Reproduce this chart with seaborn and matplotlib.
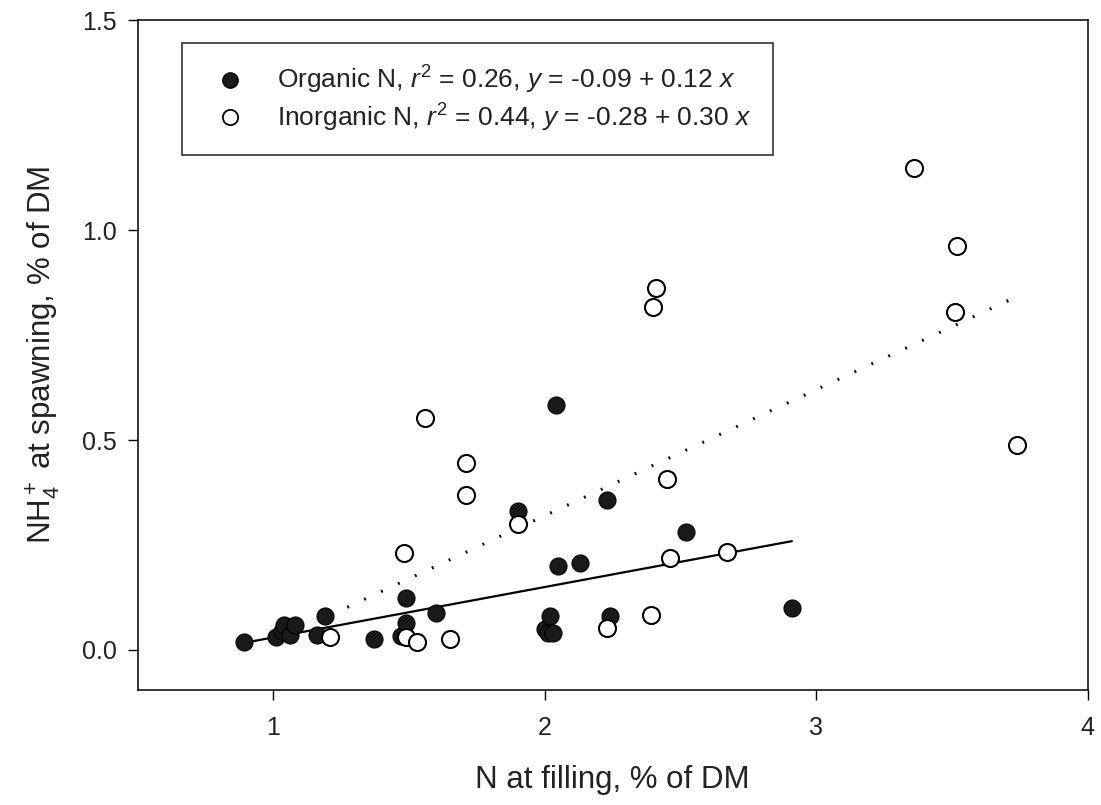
import matplotlib
matplotlib.use("Agg")
import matplotlib.pyplot as plt
import seaborn as sns
import pandas as pd
import numpy as np
from matplotlib.lines import Line2D

sns.set_theme(style="ticks")
plt.rcParams['font.family'] = ['Liberation Sans', 'DejaVu Sans']
plt.rcParams['mathtext.fontset'] = 'custom'
plt.rcParams['mathtext.rm'] = 'Liberation Sans'
plt.rcParams['mathtext.it'] = 'Liberation Sans:italic'

# Organic N (filled circles)
org_x = [0.89, 1.01, 1.03, 1.04, 1.06, 1.08, 1.16, 1.19, 1.37, 1.47, 1.49, 1.49,
         1.60, 1.90, 2.00, 2.01, 2.02, 2.03, 2.04, 2.05, 2.13, 2.23, 2.24, 2.52, 2.91]
org_y = [0.02, 0.03, 0.045, 0.06, 0.035, 0.06, 0.036, 0.08, 0.025, 0.033, 0.064, 0.125,
         0.088, 0.33, 0.05, 0.04, 0.08, 0.04, 0.583, 0.20, 0.207, 0.357, 0.08, 0.28, 0.10]

# Inorganic N (open circles)
inorg_x = [1.21, 1.48, 1.49, 1.53, 1.56, 1.65, 1.71, 1.71, 1.90, 2.23, 2.39, 2.40,
           2.41, 2.45, 2.46, 2.67, 3.36, 3.51, 3.52, 3.74]
inorg_y = [0.03, 0.231, 0.03, 0.02, 0.552, 0.027, 0.445, 0.37, 0.30, 0.053, 0.084, 0.817,
           0.862, 0.407, 0.22, 0.234, 1.148, 0.805, 0.962, 0.488]

# regression coefficients from the legend
org_fit = (-0.09, 0.12)
inorg_fit = (-0.28, 0.30)

org_label = r"Organic N, $r^2$ = 0.26, $y$ = -0.09 + 0.12 $x$"
inorg_label = r"Inorganic N, $r^2$ = 0.44, $y$ = -0.28 + 0.30 $x$"

x_ticks = [1, 2, 3, 4]
y_ticks = [0.0, 0.5, 1.0, 1.5]
y_tick_labels = ["0.0", "0.5", "1.0", "1.5"]

df_org = pd.DataFrame({"x": org_x, "y": org_y})
df_inorg = pd.DataFrame({"x": inorg_x, "y": inorg_y})

ox = np.array([min(org_x), max(org_x)])
ix = np.array([min(inorg_x), max(inorg_x)])
df_org_line = pd.DataFrame({"x": ox, "y": org_fit[0] + org_fit[1] * ox})
df_inorg_line = pd.DataFrame({"x": ix, "y": inorg_fit[0] + inorg_fit[1] * ix})

fig = plt.figure(figsize=(11.01, 8.05), dpi=100)
ax = fig.add_axes([0.125, 0.143, 0.863, 0.832])

sns.lineplot(data=df_org_line, x="x", y="y", ax=ax, color="black", lw=1.6, zorder=2)
sns.lineplot(data=df_inorg_line, x="x", y="y", ax=ax, color="black", lw=2.2,
             linestyle=(0, (0.6, 5.5)), zorder=2)

sns.scatterplot(data=df_org, x="x", y="y", ax=ax, s=150, color="#1a1a1a",
                edgecolor="black", linewidth=0.8, zorder=3)
sns.scatterplot(data=df_inorg, x="x", y="y", ax=ax, s=150, facecolor="white",
                edgecolor="black", linewidth=1.5, zorder=4)

ax.set_xlim(0.5, 4.0)
ax.set_ylim(-0.095, 1.5)
ax.set_xticks(x_ticks)
ax.set_yticks(y_ticks)
ax.set_yticklabels(y_tick_labels)
ax.tick_params(axis="both", labelsize=18, direction="out", length=7, width=1,
               color="black", labelcolor="#222222")
ax.tick_params(axis="y", pad=8)
ax.tick_params(axis="x", pad=12)
ax.set_xlabel("N at filling, % of DM", fontsize=22.5, labelpad=18, color="#222222")
ax.set_ylabel(r"NH$_4^+$ at spawning, % of DM", fontsize=22.5, labelpad=14, color="#222222")

for side in ["left", "bottom", "top", "right"]:
    ax.spines[side].set_visible(True)
    ax.spines[side].set_color("black")
    ax.spines[side].set_linewidth(1.1)

handles = [
    Line2D([], [], marker="o", linestyle="none", markersize=11, markerfacecolor="#1a1a1a",
           markeredgecolor="black"),
    Line2D([], [], marker="o", linestyle="none", markersize=11, markerfacecolor="white",
           markeredgecolor="black", markeredgewidth=1.3),
]
leg = ax.legend(handles, [org_label, inorg_label], loc="upper left",
                bbox_to_anchor=(0.047, 0.966), fontsize=19, frameon=True, fancybox=False,
                edgecolor="black", borderpad=0.8, handletextpad=0.8, labelspacing=0.2,
                borderaxespad=0)
leg.get_frame().set_linewidth(1.2)
for t in leg.get_texts():
    t.set_color("#222222")

fig.savefig("out.png", dpi=100)
